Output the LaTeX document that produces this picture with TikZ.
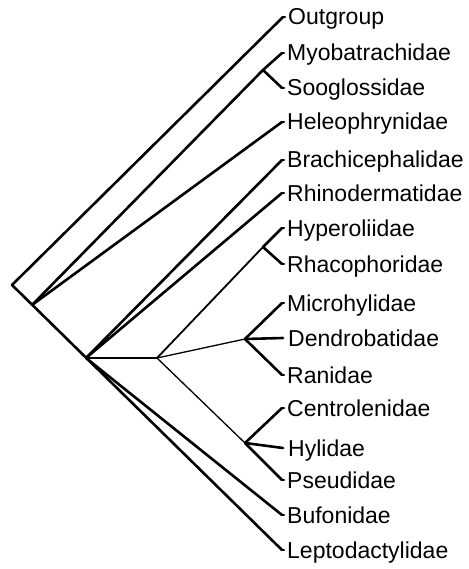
\documentclass[tikz,border=0pt]{standalone}
\usepackage{fontspec}
\setmainfont{Liberation Sans}
\begin{document}
\begin{tikzpicture}[x=1pt,y=-1pt,
  br/.style={line width=2.6pt,line join=round,line cap=round},
  thinbr/.style={line width=1.3pt,line join=round,line cap=round},
  midbr/.style={line width=1.8pt,line join=round,line cap=round},
  taxon/.style={anchor=base west,inner sep=0pt,xshift=5pt,yshift=-8pt,font=\fontsize{23}{27}\selectfont}]
\useasboundingbox (0,0) rectangle (468,569);
% internal nodes
\coordinate (root) at (12,285);
\coordinate (A) at (32,305);
\coordinate (B) at (86,358);
\coordinate (C) at (157,358);
\coordinate (MS) at (263,70);
\coordinate (HR) at (263,247);
\coordinate (D) at (245,339);
\coordinate (E) at (245,443);
% tips
\coordinate (tOut) at (283,17);
\coordinate (tMyo) at (282,53);
\coordinate (tSoo) at (282,88);
\coordinate (tHel) at (282,122);
\coordinate (tBra) at (282,160);
\coordinate (tRhi) at (282,193);
\coordinate (tHyp) at (282,228);
\coordinate (tRha) at (282,264);
\coordinate (tMic) at (282,303);
\coordinate (tDen) at (283,338);
\coordinate (tRan) at (282,375);
\coordinate (tCen) at (282,408);
\coordinate (tHyl) at (283,448);
\coordinate (tPse) at (282,480);
\coordinate (tBuf) at (282,515);
\coordinate (tLep) at (282,550);
% labels
\node[taxon] (Out) at (tOut) {Outgroup};
\node[taxon] (Myo) at (tMyo) {Myobatrachidae};
\node[taxon] (Soo) at (tSoo) {Sooglossidae};
\node[taxon] (Hel) at (tHel) {Heleophrynidae};
\node[taxon] (Bra) at (tBra) {Brachicephalidae};
\node[taxon] (Rhi) at (tRhi) {Rhinodermatidae};
\node[taxon] (Hyp) at (tHyp) {Hyperoliidae};
\node[taxon] (Rha) at (tRha) {Rhacophoridae};
\node[taxon] (Mic) at (tMic) {Microhylidae};
\node[taxon] (Den) at (tDen) {Dendrobatidae};
\node[taxon] (Ran) at (tRan) {Ranidae};
\node[taxon] (Cen) at (tCen) {Centrolenidae};
\node[taxon] (Hyl) at (tHyl) {Hylidae};
\node[taxon] (Pse) at (tPse) {Pseudidae};
\node[taxon] (Buf) at (tBuf) {Bufonidae};
\node[taxon] (Lep) at (tLep) {Leptodactylidae};
% branches
\draw[br] (tOut) -- (root) -- (tLep);
\draw[br] (A) -- (MS) -- (tMyo);
\draw[br] (MS) -- (tSoo);
\draw[br] (A) -- (tHel);
\draw[br] (B) -- (tBra);
\draw[br] (B) -- (tRhi);
\draw[br] (B) -- (tBuf);
\draw[thinbr] (B) -- (C);
\draw[midbr] (C) -- (HR);
\draw[br] (HR) -- (tHyp);
\draw[br] (HR) -- (tRha);
\draw[thinbr] (C) -- (D);
\draw[thinbr] (C) -- (E);
\draw[br] (D) -- (tMic);
\draw[br] (D) -- (tDen);
\draw[br] (D) -- (tRan);
\draw[br] (E) -- (tCen);
\draw[br] (E) -- (tHyl);
\draw[br] (E) -- (tPse);
% small hooks at the tips
\foreach \t in {tOut,tMyo,tSoo,tHel,tBra,tRhi,tHyp,tRha,tMic,tRan,tCen,tPse,tBuf,tLep}
  \draw[br] (\t) -- ++(2,0);
\end{tikzpicture}
\end{document}
